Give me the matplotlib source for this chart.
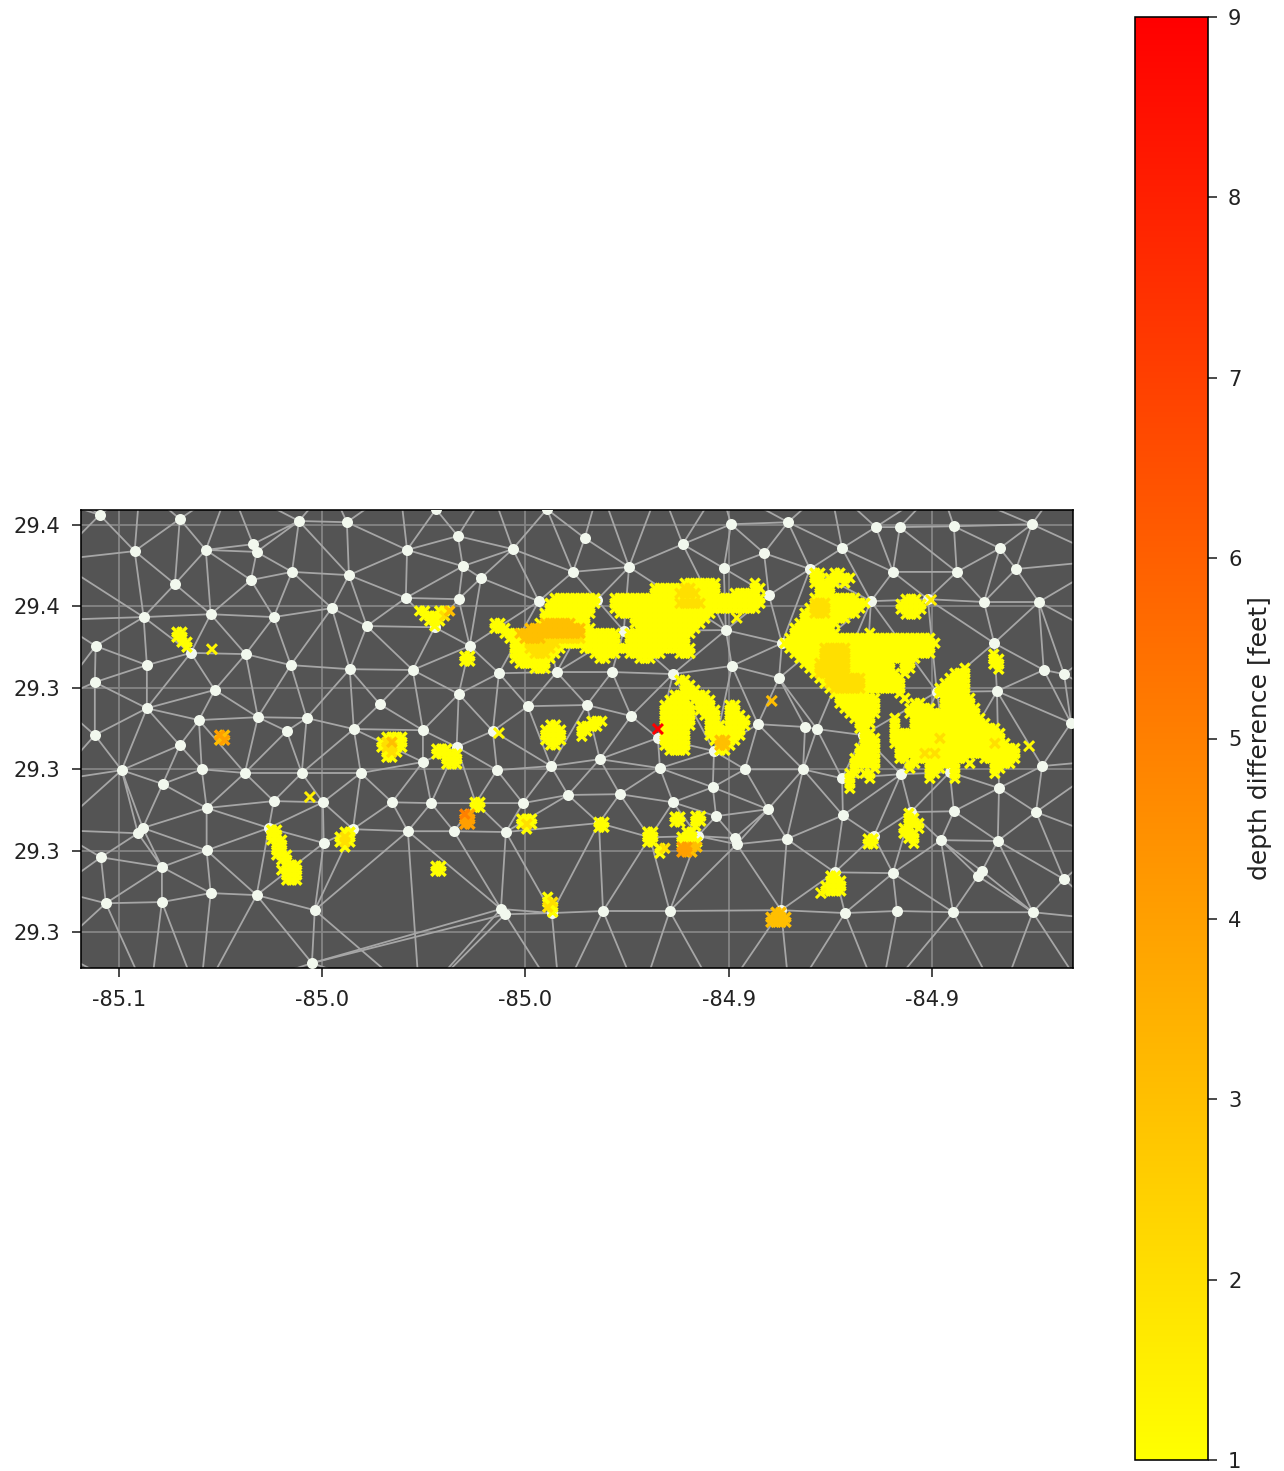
import numpy as np
import matplotlib
matplotlib.use('Agg')
import matplotlib.pyplot as plt
import matplotlib.tri as mtri

# mesh nodes inside the view
node_lon = [
    -85.1047, -85.0850, -85.0557, -85.0961, -85.0786, -85.0670, -85.0661, -85.0574, -85.0675, -85.0862,
    -85.0939, -85.0774, -85.0619, -85.0476, -85.1057, -85.0931, -85.0823, -85.0688, -85.0577, -85.1059,
    -85.0764, -85.0931, -85.0803, -85.0658, -85.0538, -85.0587, -85.1059, -85.0850, -85.0993, -85.0796,
    -85.0690, -85.0550, -85.0892, -85.0619, -85.0498, -85.0784, -85.0941, -85.0953, -85.0631, -85.0496,
    -85.0784, -85.1044, -85.0894, -85.0774, -85.0661, -85.1032, -85.0894, -85.0518, -85.0525, -85.0439,
    -85.0166, -85.0291, -85.0031, -84.9854, -85.0220, -84.9947, -85.0154, -85.0109, -85.0434, -84.9883,
    -84.9745, -85.0294, -85.0164, -84.9967, -84.9824, -85.0390, -85.0223, -85.0137, -84.9758, -85.0432,
    -85.0277, -85.0065, -84.9923, -84.9787, -85.0164, -85.0358, -84.9994, -84.9849, -84.9740, -85.0422,
    -85.0252, -85.0080, -84.9674, -85.0252, -85.0169, -85.0405, -85.0070, -84.9937, -84.9817, -84.9669,
    -85.0328, -85.0232, -85.0122, -85.0006, -84.9895, -84.9768, -85.0424, -85.0289, -85.0176, -85.0048,
    -84.9819, -84.9694, -85.0060, -85.0050, -84.9935, -84.9809, -84.9645, -84.9494, -84.9354, -84.9138,
    -84.9079, -84.8946, -84.8754, -84.9613, -84.9413, -84.9221, -84.8833, -84.9512, -84.9300, -84.9096,
    -84.8939, -84.8793, -84.9401, -84.9150, -84.9010, -84.8872, -84.8737, -84.9507, -84.9369, -84.8847,
    -84.9492, -84.9637, -84.9376, -84.8725, -84.8675, -84.8988, -84.8840, -84.8658, -84.9428, -84.9312,
    -84.9283, -84.9170, -84.9536, -84.9460, -84.9317, -84.9221, -84.9076, -84.8956, -84.8729, -84.9539,
    -84.8835, -84.9637, -84.9403, -84.9531, -84.9219, -84.8946, -84.8744, -84.9052, -84.9576, -84.9485,
    -84.9480, -84.9357, -84.9143, -84.8978, -84.8838, -84.9239, -84.9096, -84.8877, -84.8887, -84.8675,
    -84.9371, -84.9214, -84.9086, -84.8948, -84.8752,
]
node_lat = [
    29.3825, 29.3815, 29.3810, 29.3736, 29.3739, 29.3753, 29.3734, 29.3685, 29.3665, 29.3655,
    29.3574, 29.3581, 29.3574, 29.3596, 29.3503, 29.3456, 29.3486, 29.3483, 29.3456, 29.3414,
    29.3395, 29.3350, 29.3321, 29.3328, 29.3326, 29.3294, 29.3284, 29.3259, 29.3198, 29.3200,
    29.3191, 29.3191, 29.3164, 29.3122, 29.3119, 29.3105, 29.3056, 29.3043, 29.3056, 29.3019,
    29.3001, 29.2984, 29.2960, 29.2896, 29.2891, 29.2871, 29.2874, 29.2854, 29.2724, 29.3807,
    29.3773, 29.3739, 29.3741, 29.3768, 29.3839, 29.3839, 29.3699, 29.3670, 29.3677, 29.3685,
    29.3697, 29.3621, 29.3618, 29.3613, 29.3616, 29.3552, 29.3549, 29.3503, 29.3540, 29.3446,
    29.3444, 29.3436, 29.3439, 29.3439, 29.3385, 29.3360, 29.3355, 29.3358, 29.3331, 29.3299,
    29.3296, 29.3294, 29.3277, 29.3218, 29.3255, 29.3191, 29.3198, 29.3208, 29.3225, 29.3203,
    29.3119, 29.3117, 29.3117, 29.3117, 29.3137, 29.3139, 29.3053, 29.3048, 29.3048, 29.3046,
    29.3068, 29.3033, 29.2857, 29.2844, 29.2847, 29.2852, 29.2852, 29.3802, 29.3807, 29.3795,
    29.3795, 29.3797, 29.3802, 29.3753, 29.3731, 29.3743, 29.3743, 29.3694, 29.3692, 29.3685,
    29.3685, 29.3692, 29.3628, 29.3613, 29.3618, 29.3611, 29.3611, 29.3542, 29.3510, 29.3510,
    29.3454, 29.3434, 29.3424, 29.3444, 29.3434, 29.3390, 29.3392, 29.3314, 29.3311, 29.3304,
    29.3299, 29.3284, 29.3245, 29.3200, 29.3200, 29.3178, 29.3188, 29.3193, 29.3208, 29.3156,
    29.3154, 29.3119, 29.3102, 29.3085, 29.3087, 29.3097, 29.3095, 29.3095, 29.3036, 29.3031,
    29.3016, 29.3029, 29.3036, 29.3026, 29.3024, 29.2947, 29.2945, 29.2950, 29.2938, 29.2930,
    29.2854, 29.2847, 29.2852, 29.2849, 29.2849,
]

# mesh nodes just outside the view, they give the edges that leave the frame
outer_lon = [
    -85.1145, -85.0948, -85.0727, -85.0481, -85.0309, -85.0087, -84.9817, -84.9669, -84.9522, -84.9251,
    -84.8980, -84.8685, -84.8562, -85.1121, -85.0924, -85.0801, -85.0555, -85.0260, -84.9915, -84.9718,
    -84.9522, -84.9349, -84.9128, -84.8833, -84.8611, -85.1157, -85.1157, -85.1157, -85.1157, -85.1157,
    -85.1157, -85.1157, -85.1157, -84.8562, -84.8562, -84.8562, -84.8562, -84.8562, -84.8562, -84.8562,
]
outer_lat = [
    29.3898, 29.3898, 29.3898, 29.3898, 29.3898, 29.3898, 29.3898, 29.3898, 29.3898, 29.3898,
    29.3898, 29.3898, 29.3898, 29.2633, 29.2633, 29.2633, 29.2633, 29.2633, 29.2633, 29.2633,
    29.2633, 29.2633, 29.2633, 29.2633, 29.2633, 29.3861, 29.3714, 29.3567, 29.3370, 29.3173,
    29.3051, 29.2903, 29.2756, 29.3714, 29.3517, 29.3370, 29.3223, 29.3026, 29.2830, 29.2658,
]

# long thin mesh edges that are not part of the delaunay mesh
edge_lon1 = [-85.0525, -85.0525]
edge_lat1 = [29.2724, 29.2724]
edge_lon2 = [-85.0060, -85.0050]
edge_lat2 = [29.2857, 29.2844]

# isolated depth differences
single_lon = [-85.0771, -84.9394, -84.9480, -84.9674, -84.8761, -85.0065, -85.0530, -84.9002, -84.9273]
single_lat = [29.3495, 29.3368, 29.3572, 29.3299, 29.3257, 29.3289, 29.3132, 29.3616, 29.2896]
single_depth = [1.3, 3, 1.2, 9, 1.2, 1.2, 1.5, 1.5, 1.2]

# raster patches of depth difference: each row holds "column:values", one digit per cell
cell = 0.00123
patch_lon = [-85.0087, -84.9669, -84.9374, -85.0857, -85.0752, -85.0624, -85.0456, -85.0353, -85.0218, -85.0009,
             -84.9945, -84.9950, -84.9861, -85.0260, -84.9699, -84.9669, -84.9581, -84.9615, -84.9069, -84.9157,
             -84.9261, -84.9396, -84.8848, -84.9076, -85.0220, -85.0149, -85.0124, -84.9819, -84.9632, -85.0149]
patch_lat = [29.3657, 29.3419, 29.3682, 29.3537, 29.3284, 29.3051, 29.3046, 29.3279, 29.3250, 29.3078,
             29.2886, 29.3309, 29.3318, 29.3589, 29.3046, 29.3006, 29.3085, 29.3046, 29.3092, 29.3029,
             29.2938, 29.2849, 29.3483, 29.3618, 29.2962, 29.3478, 29.3119, 29.3070, 29.3083, 29.3090]
patch_rows = [
    ["39:1111111 53:1",
     "33:1111112211111 53:11",
     "33:1111122221111 49:11111",
     "13:111111111 25:111111111111111111111111111111",
     "12:1111111111 25:111111111111122222111111111111",
     "12:111111111 25:11111111111111111111111111111",
     "11:1111111111 26:1111111111111111111",
     "11:111111111 29:111111111111111",
     "1:11 10:1333333111 29:11111111111111",
     "1:111 8:3333333333311 30:111111111111",
     "3:11133333333333331111111 28:1111111111111",
     "4:1113333222222221111111 28:111111111111",
     "5:111222222111111111111 28:111111111111",
     "5:1112222211 19:1111111111111111111111",
     "5:111122211 21:11111 28:1111111 38:111",
     "5:11111111 22:11 30:111",
     "6:111111",
     "9:111"],
    ["4:11",
     "5:11",
     "5:111",
     "3:1111111",
     "2:1111 7:1111",
     "1:111111 8:111 14:11",
     "1:111111 8:1111 14:11",
     "1:111111 9:111 14:111",
     "1:111111 10:11 14:111 17:1",
     "1:111111 10:111 14:1111",
     "1:11111 10:1111111",
     "1:11111 10:1111111",
     "1:11111 11:13311",
     "1:11111 12:331",
     "2:1111 12:11"],
    ["7:11 11:11",
     "7:11 10:11111",
     "7:11111 13:1",
     "8:111",
     "8:111",
     "7:111111111",
     "7:22211111111",
     "6:12221111111",
     "5:11222111111",
     "5:111111111",
     "4:11111111",
     "3:11111111",
     "3:111111111 18:1",
     "2:11111111111111111111111111111",
     "1:1111111111111111111111111111111",
     "2:11111112222211111111111111111",
     "3:1111112222211111111111111111",
     "4:111112222211111111111111",
     "5:111222222111111111 25:11",
     "6:11222222111111111 25:11 37:1",
     "7:12222221111111111 25:1 35:111",
     "8:11222222211111111 34:1111",
     "9:1222222211111111 33:11111",
     "10:122222211111111 32:111111",
     "11:1111111 24:1 32:111111",
     "12:11111111 25:1 33:111111",
     "12:11111111 27:11 33:111111",
     "13:1111111 26:11111 33:1111111",
     "14:111111 26:11111111111111",
     "15:1111 23:1 27:11111111111111",
     "16:111 23:1 27:111111111111111",
     "16:11 23:1 27:11111111111111111",
     "17:11 23:1111111111111111111111",
     "17:111 23:1111111112111111111111",
     "17:111 23:11111111111111111111211",
     "16:1111 24:111111111111111111111111",
     "16:1111 24:111112121111111111111111",
     "15:11111 24:11 27:11111111111 41:1111111",
     "15:11111 26:11 30:111111 38:1 43:1111",
     "15:1 19:1 26:1 30:111 35:1 43:11",
     "14:11 17:11 30:11 35:1 43:1",
     "14:1 18:1 30:1 35:1",
     "14:1",
     "14:1"],
    ["0:11", "0:11", "1:11", "2:1"],
    ["0:43", "0:34"],
    ["0:11", "0:11", "0:111", "1:11", "1:11", "1:111", "2:11", "3:111", "2:1111", "3:111", "3:111"],
    ["1:11", "0:121", "0:121", "1:1"],
    ["1:1111", "0:12311", "0:12211", "1:121", "1:11"],
    ["0:111", "0:11111", "2:111", "2:111"],
    ["0:111", "0:121", "1:1"],
    ["0:1", "0:12", "0:21", "1:1"],
    ["1:11", "0:1111", "0:1111", "0:1111", "1:11"],
    ["2:111", "0:1111", "0:11", "0:1"],
    ["0:11 4:113", "1:111 4:12", "2:111", "3:1"],
    ["0:11", "0:11", "0:11"],
    ["0:12", "0:1"],
    ["0:11", "0:11", "0:1"],
    ["1:11", "0:111", "0:1111", "0:4433", "0:443"],
    ["1:1", "1:11", "1:111", "0:11 3:1", "0:111", "1:11", "2:1"],
    ["0:11", "0:11"],
    ["1:11", "1:111", "0:1111", "0:1111"],
    ["1:33", "0:3333", "0:3333"],
    ["0:1", "0:11", "0:11", "1:1"],
    ["1:111", "0:11111", "0:11111", "1:111"],
    ["0:11", "0:11"],
    ["0:11", "0:11"],
    ["0:11", "0:11"],
    ["0:11", "0:11"],
    ["0:11", "0:11"],
    ["0:54", "0:44", "0:44"],
]

x_ticks = [-85.10, -85.05, -85.00, -84.95, -84.90]
x_labels = ['-85.1', '-85.0', '-85.0', '-84.9', '-84.9']
y_ticks = [29.38, 29.36, 29.34, 29.32, 29.30, 29.28]
y_labels = ['29.4', '29.4', '29.3', '29.3', '29.3', '29.3']
cbar_ticks = [1, 2, 3, 4, 5, 6, 7, 8, 9]

# expand the raster patches into points
depth_lon = []
depth_lat = []
depth_val = []
for lon0, lat0, rows in zip(patch_lon, patch_lat, patch_rows):
    for r, row in enumerate(rows):
        for part in row.split():
            col, vals = part.split(':')
            for k, v in enumerate(vals):
                depth_lon.append(lon0 + (int(col) + k) * cell)
                depth_lat.append(lat0 - r * cell)
                depth_val.append(float(v))

order = np.argsort(depth_val, kind='stable')
depth_lon = np.array(depth_lon)[order]
depth_lat = np.array(depth_lat)[order]
depth_val = np.array(depth_val)[order]

W, H = 1284, 1471
fig = plt.figure(figsize=(W / 144, H / 144), dpi=144)
ax = fig.add_axes([81 / W, (H - 968) / H, 992 / W, 458 / H])
cax = fig.add_axes([1135 / W, (H - 1460) / H, 73 / W, 1443 / H])

ax.set_facecolor('#545454')
ax.set_axisbelow(True)
ax.grid(True, color='#868686', lw=0.9)

tri = mtri.Triangulation(np.array(node_lon + outer_lon), np.array(node_lat + outer_lat))
ax.triplot(tri, '-', color='#a6a6a6', lw=0.9, zorder=2)
for lon1, lat1, lon2, lat2 in zip(edge_lon1, edge_lat1, edge_lon2, edge_lat2):
    ax.plot([lon1, lon2], [lat1, lat2], '-', color='#a6a6a6', lw=0.9, zorder=2)
ax.plot(node_lon, node_lat, 'o', color='#f2f8ee', ms=5.5, mew=0, zorder=3)

sc = ax.scatter(depth_lon, depth_lat, c=depth_val, cmap='autumn_r', vmin=1, vmax=9,
                marker='x', s=22, linewidths=1.7, zorder=4)
ax.scatter(single_lon, single_lat, c=single_depth, cmap='autumn_r', vmin=1, vmax=9,
           marker='x', s=25, linewidths=1.5, zorder=5)

ax.set_xlim(-85.1093, -84.8653)
ax.set_ylim(29.2712, 29.3837)
ax.set_xticks(x_ticks)
ax.set_xticklabels(x_labels)
ax.set_yticks(y_ticks)
ax.set_yticklabels(y_labels)
ax.tick_params(axis='x', length=4.5, labelsize=10.5, colors='#222222', pad=6.5)
ax.tick_params(axis='y', length=4.5, labelsize=10.5, colors='#222222', pad=6)

cb = fig.colorbar(sc, cax=cax)
cb.set_ticks(cbar_ticks)
cb.ax.tick_params(length=4.5, labelsize=10.5, colors='#222222', pad=5.5)
cb.set_label('depth difference [feet]', fontsize=12.5, color='#222222', labelpad=3)

fig.savefig('out.png', dpi=144)
